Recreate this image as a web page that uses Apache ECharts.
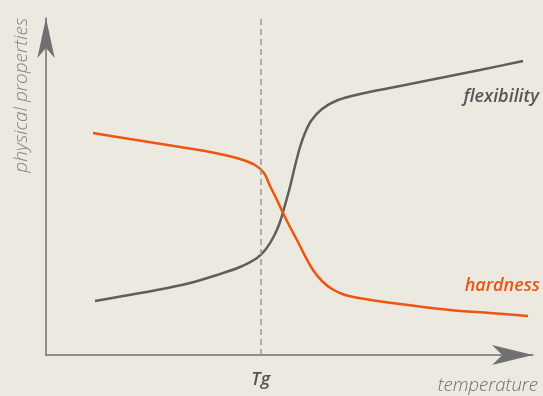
<!DOCTYPE html>
<html>
<head>
<meta charset="utf-8">
<script src="https://cdn.jsdelivr.net/npm/echarts@6/dist/echarts.min.js"></script>
<style>
  html, body { margin: 0; padding: 0; background: #ebe9e0; }
  #chart { width: 543px; height: 396px; }
</style>
</head>
<body>
<div id="chart"></div>
<script>
// temperature (0-100) vs physical property (0-100)
var flexX = [10.06, 15.81, 22.79, 29.57, 35.11, 39.84, 43.33, 45.17, 46.82, 48.05, 49.08, 50.10,
             51.13, 52.16, 53.18, 54.41, 56.67, 59.96, 64.48, 70.64, 78.85, 89.12, 97.95];
var flexY = [16.02, 17.51, 19.29, 21.36, 23.74, 26.11, 28.78, 31.45, 35.31, 39.47, 44.51, 49.85,
             56.08, 61.72, 65.88, 69.44, 73.00, 75.67, 77.45, 79.23, 81.60, 84.57, 87.24];
var hardX = [9.65, 17.25, 27.52, 34.70, 39.84, 42.92, 44.76, 46.00, 47.43, 48.67, 50.10,
             51.54, 53.18, 54.83, 56.67, 58.73, 61.40, 65.50, 72.69, 82.96, 91.17, 98.97];
var hardY = [65.88, 64.09, 61.72, 59.94, 58.16, 56.38, 54.01, 50.15, 45.99, 42.14, 37.98,
             34.12, 29.38, 25.22, 21.96, 19.58, 17.80, 16.62, 15.13, 13.35, 12.46, 11.57];
var tg = 44.1;

function zip(xs, ys) {
    return xs.map(function(x, i) { return [x, ys[i]]; });
}

var chart = echarts.init(document.getElementById('chart'));
var axisCol = '#707070';

var option = {
    backgroundColor: '#ebe9e0',
    animation: false,
    grid: { left: 46, right: 10, top: 18, bottom: 41 },
    xAxis: {
        type: 'value', min: 0, max: 100,
        axisLine: { show: true, symbol: ['none', 'arrow'], symbolSize: [15, 41], lineStyle: { color: axisCol, width: 1.5 } },
        axisTick: { show: false }, axisLabel: { show: false }, splitLine: { show: false }
    },
    yAxis: {
        type: 'value', min: 0, max: 100,
        axisLine: { show: true, symbol: ['none', 'arrow'], symbolSize: [13, 40], lineStyle: { color: axisCol, width: 1.5 } },
        axisTick: { show: false }, axisLabel: { show: false }, splitLine: { show: false }
    },
    series: [
        {
            name: 'flexibility', type: 'line', smooth: 0.3, showSymbol: false,
            data: zip(flexX, flexY),
            lineStyle: { color: '#5e5e5e', width: 2.5 },
            markLine: {
                silent: true, symbol: 'none',
                lineStyle: { color: '#999', type: [6, 4], width: 1.5 },
                label: {
                    show: true, position: 'start', distance: 16,
                    formatter: 'Tg', color: '#555',
                    fontFamily: 'Open Sans', fontStyle: 'italic', fontWeight: 600, fontSize: 18
                },
                data: [{ xAxis: tg }]
            }
        },
        {
            name: 'hardness', type: 'line', smooth: 0.3, showSymbol: false,
            data: zip(hardX, hardY),
            lineStyle: { color: '#ee5511', width: 2.5 }
        }
    ],
    graphic: [
        { type: 'text', right: 4, top: 88, style: { text: 'flexibility', fill: '#555', font: 'italic 600 18px "Open Sans"' } },
        { type: 'text', right: 3, top: 277, style: { text: 'hardness', fill: '#ee5511', font: 'italic 600 18px "Open Sans"' } },
        { type: 'text', right: 5, top: 376, style: { text: 'temperature', fill: '#6e6e6e', font: 'italic 300 18.5px "Open Sans"' } },
        { type: 'text', left: 12, top: 18, rotation: Math.PI / 2,
          style: { text: 'physical properties', fill: '#808080', font: 'italic 300 19px "Open Sans"' } }
    ]
};

chart.setOption(option);
</script>
</body>
</html>
